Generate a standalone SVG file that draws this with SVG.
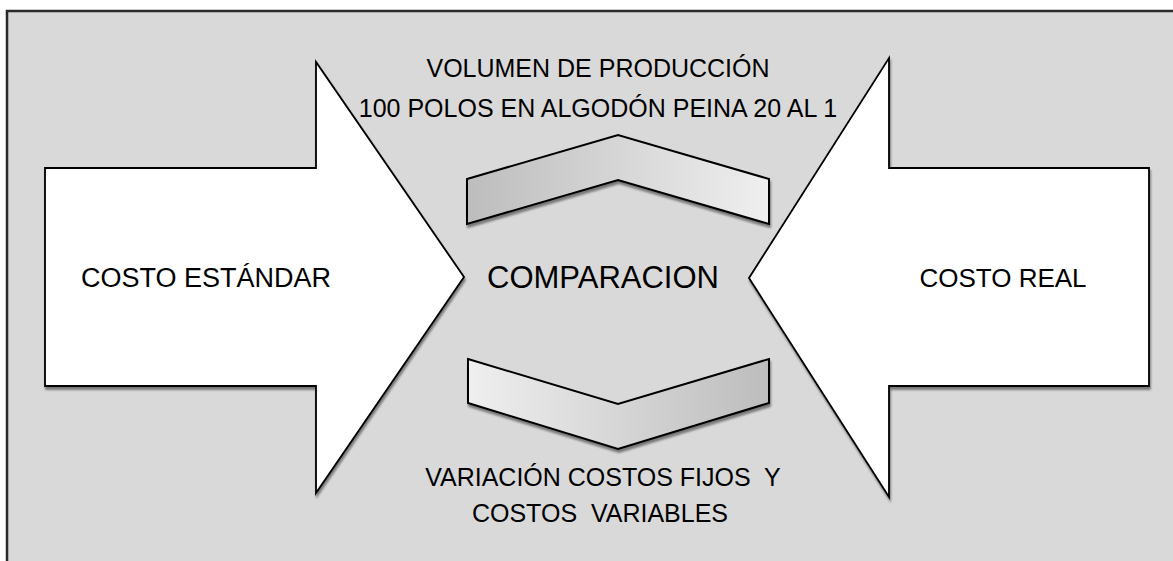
<svg xmlns="http://www.w3.org/2000/svg" width="1173" height="561" viewBox="0 0 1173 561">
  <style>
    .lbl { font-family: "Liberation Sans", Arial, sans-serif; fill: #000; white-space: pre; }
    .arrow { fill: #ffffff; stroke: #000; stroke-width: 1.8; stroke-linejoin: miter; filter: url(#shadow); }
    .chev { stroke: #000; stroke-width: 2; stroke-linejoin: miter; filter: url(#shadow); }
  </style>
  <defs>
    <filter id="shadow" x="-10%" y="-10%" width="120%" height="130%">
      <feGaussianBlur in="SourceAlpha" stdDeviation="0.8"/>
      <feOffset dx="1" dy="2.5" result="b"/>
      <feComponentTransfer><feFuncA type="linear" slope="0.45"/></feComponentTransfer>
      <feMerge><feMergeNode/><feMergeNode in="SourceGraphic"/></feMerge>
    </filter>
    <linearGradient id="gUp" x1="0" y1="0" x2="1" y2="0">
      <stop offset="0" stop-color="#bdbdbd"/>
      <stop offset="1" stop-color="#efefef"/>
    </linearGradient>
    <linearGradient id="gDown" x1="0" y1="0" x2="1" y2="0">
      <stop offset="0" stop-color="#efefef"/>
      <stop offset="1" stop-color="#bdbdbd"/>
    </linearGradient>
  </defs>

  <rect x="0" y="0" width="1173" height="561" fill="#ffffff"/>
  <rect id="frame" x="7" y="11" width="1180" height="560" fill="#d9d9d9" stroke="#2b2b2b" stroke-width="2.5"/>

  <g id="costo-estandar">
    <polygon class="arrow" points="45,168 316,168 316,62 464,277 316,493 316,386 45,386"/>
    <text class="lbl" x="206" y="287" font-size="27" text-anchor="middle">COSTO ESTÁNDAR</text>
  </g>

  <g id="costo-real">
    <polygon class="arrow" points="1149,168 889,168 889,58 749,278 889,497 889,386 1149,386"/>
    <text class="lbl" x="1003" y="287" font-size="26" text-anchor="middle">COSTO REAL</text>
  </g>

  <g id="comparacion">
    <text class="lbl" x="603" y="288" font-size="31" text-anchor="middle">COMPARACION</text>
  </g>

  <g id="volumen">
    <polygon class="chev" fill="url(#gUp)" points="467,179 618,135 769,179 769,224 618,180 467,224"/>
    <text class="lbl" x="598" y="77" font-size="25" text-anchor="middle">VOLUMEN DE PRODUCCIÓN</text>
    <text class="lbl" x="598" y="117" font-size="25" text-anchor="middle">100 POLOS EN ALGODÓN PEINA 20 AL 1</text>
  </g>

  <g id="variacion">
    <polygon class="chev" fill="url(#gDown)" points="468,359 618,404 769,359 769,403 618,449 468,403"/>
    <text class="lbl" x="603" y="486" font-size="25" text-anchor="middle">VARIACIÓN COSTOS FIJOS  Y</text>
    <text class="lbl" x="600" y="522" font-size="25" text-anchor="middle">COSTOS  VARIABLES</text>
  </g>

  <g id="connectors"></g>
</svg>
